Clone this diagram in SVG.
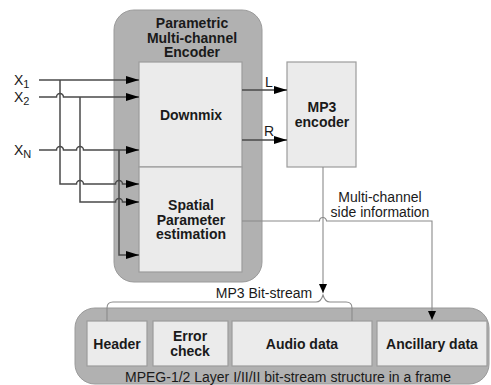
<svg xmlns="http://www.w3.org/2000/svg" width="491" height="385" viewBox="0 0 491 385">
<style>
.outer{fill:#b1b1b1;stroke:#9a9a9a;stroke-width:1}
.box{fill:#ebebeb;stroke:#9c9c9c;stroke-width:1.2}
.b{font-family:"Liberation Sans",Arial,sans-serif;font-weight:bold;font-size:14px;fill:#1a1a1a;text-anchor:middle}
.r{font-family:"Liberation Sans",Arial,sans-serif;font-size:14px;fill:#1a1a1a;text-anchor:middle}
.dk{fill:none;stroke:#4a4a4a;stroke-width:1.5}
.lt{fill:none;stroke:#8a8a8a;stroke-width:1.1}
</style>
<defs>
<marker id="ah" markerWidth="13" markerHeight="8" refX="13" refY="4" orient="auto" markerUnits="userSpaceOnUse"><path d="M0,0 L13,4 L0,8 z" fill="#000"/></marker>
<marker id="ahs" markerWidth="9" markerHeight="10" refX="9" refY="4" orient="auto" markerUnits="userSpaceOnUse"><path d="M0,0 L9,4 L0,8 z" fill="#000"/></marker>
</defs>
<g id="encoder">
<rect class="outer" x="114" y="10" width="148" height="272" rx="20"/>
<text class="b" x="192" y="28">Parametric</text>
<text class="b" x="192" y="42.5">Multi-channel</text>
<text class="b" x="192" y="57">Encoder</text>
</g>
<g id="downmix">
<rect class="box" x="139" y="62" width="103" height="105"/>
<text class="b" x="191" y="120">Downmix</text>
</g>
<g id="spatial">
<rect class="box" x="139" y="167" width="103" height="105"/>
<text class="b" x="191" y="210">Spatial</text>
<text class="b" x="191" y="224.5">Parameter</text>
<text class="b" x="191" y="239">estimation</text>
</g>
<g id="mp3enc">
<rect class="box" x="287" y="62" width="69" height="105"/>
<text class="b" x="322" y="112">MP3</text>
<text class="b" x="322" y="127">encoder</text>
</g>
<g id="frame">
<rect class="outer" x="75" y="308" width="414" height="76" rx="20"/>
<text class="r" x="288" y="382">MPEG-1/2 Layer I/II/II bit-stream structure in a frame</text>
</g>
<g id="header">
<rect class="box" x="87" y="321" width="60" height="45"/>
<text class="b" x="117" y="349">Header</text>
</g>
<g id="errorcheck">
<rect class="box" x="153" y="321" width="75" height="45"/>
<text class="b" x="190" y="341">Error</text>
<text class="b" x="190" y="356">check</text>
</g>
<g id="audiodata">
<rect class="box" x="232" y="321" width="140" height="45"/>
<text class="b" x="302" y="349">Audio data</text>
</g>
<g id="ancillary">
<rect class="box" x="377" y="321" width="110" height="45"/>
<text class="b" x="432" y="349">Ancillary data</text>
</g>
<g id="inputs">
<text class="r" x="14" y="85" style="text-anchor:start">X<tspan font-size="11" dy="3">1</tspan></text>
<text class="r" x="14" y="102" style="text-anchor:start">X<tspan font-size="11" dy="3">2</tspan></text>
<text class="r" x="14" y="155" style="text-anchor:start">X<tspan font-size="11" dy="3">N</tspan></text>
</g>
<g id="connectors">
<path class="dk" d="M39,80 H139" marker-end="url(#ah)"/>
<path class="dk" d="M39,97 H56.5 a3.5,3.5 0 0 1 7,0 H139" marker-end="url(#ah)"/>
<path class="dk" d="M39,150 H56.5 a3.5,3.5 0 0 1 7,0 H76.5 a3.5,3.5 0 0 1 7,0 H139" marker-end="url(#ah)"/>
<path class="dk" d="M60,80 V184 H76.5 a3.5,3.5 0 0 1 7,0 H115.5 a3.5,3.5 0 0 1 7,0 H139" marker-end="url(#ah)"/>
<path class="dk" d="M80,97 V202 H115.5 a3.5,3.5 0 0 1 7,0 H139" marker-end="url(#ah)"/>
<path class="dk" d="M119,150 V255 H139" marker-end="url(#ah)"/>
<path class="dk" d="M242,90 H287" marker-end="url(#ah)"/>
<path class="dk" d="M242,140 H287" marker-end="url(#ah)"/>
<path class="lt" d="M323,167 V293" marker-end="url(#ahs)"/>
<path class="lt" d="M242,221 H319.5 a3.5,3.5 0 0 1 7,0 H432 V320" marker-end="url(#ahs)"/>
<path class="lt" d="M107,321 V308 Q107,302 113,302 H316 Q321,302 323,295 Q325,302 330,302 H346 Q352,302 352,308 V321"/>
</g>
<g id="labels">
<text class="r" x="269" y="87">L</text>
<text class="r" x="269" y="136">R</text>
<text class="r" x="380" y="201.5">Multi-channel</text>
<text class="r" x="380" y="217">side information</text>
<text class="r" x="264" y="298">MP3 Bit-stream</text>
</g>
</svg>
